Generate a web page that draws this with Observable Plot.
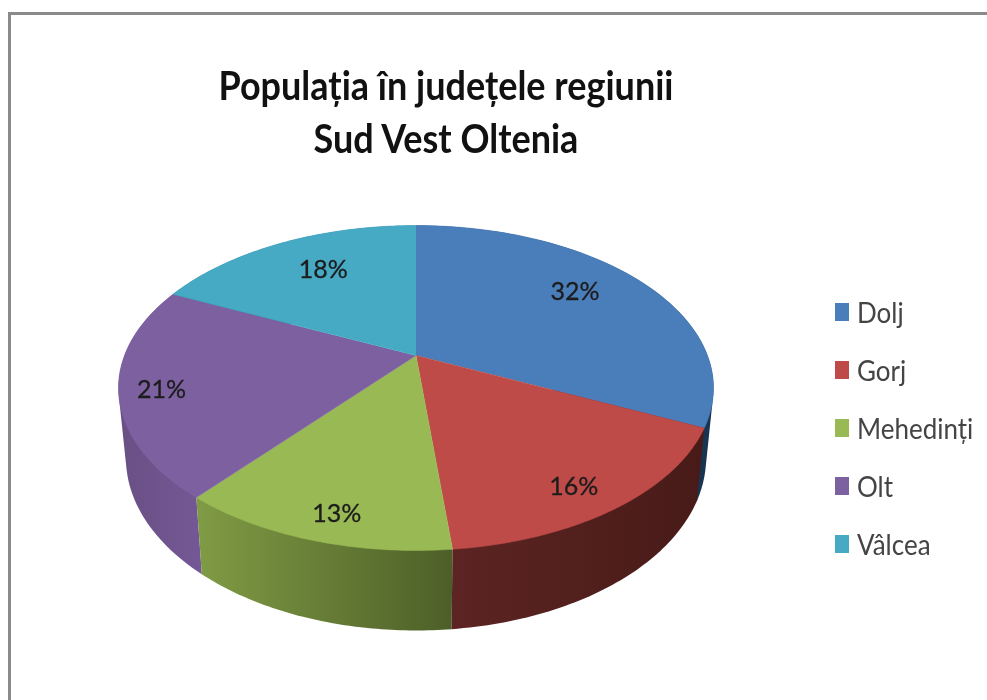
<!DOCTYPE html>
<html lang="ro">
<head>
<meta charset="utf-8">
<script src="https://cdn.jsdelivr.net/npm/d3@7"></script>
<script src="https://cdn.jsdelivr.net/npm/@observablehq/plot@0.6"></script>
<style>
  html, body { margin: 0; padding: 0; background: #fff; }
  #page { position: relative; width: 987px; height: 700px; overflow: hidden; filter: blur(0.7px); font-family: Lato, sans-serif; }
  #frame { position: absolute; left: 8px; top: 12px; right: -10px; bottom: -10px; border-top: 3px solid #8a8a8a; border-left: 3px solid #8a8a8a; }
  #title { position: absolute; left: 146px; top: 63px; width: 600px; text-align: center; font-weight: 700; font-size: 36px; line-height: 48px; color: #111; transform: scaleY(1.1); transform-origin: 50% 50%; }
  #chart { position: absolute; left: 0; top: 200px; }
  #chart svg { display: block; background: transparent; max-width: none; }
  #legend { position: absolute; left: 835px; top: 283px; margin: 0; padding: 0; list-style: none; }
  #legend li { display: flex; align-items: center; height: 58px; color: #444; font-size: 26px; white-space: nowrap; }
  #legend i { display: block; width: 14px; height: 18px; margin-right: 8px; }
  #legend span { display: inline-block; transform: scaleY(1.1); }
</style>
</head>
<body>
<div id="page">
  <div id="frame"></div>
  <div id="title">Populația în județele regiunii<br>Sud Vest Oltenia</div>
  <div id="chart"></div>
  <ul id="legend"></ul>
</div>
<script>
// Data
const counties = ["Dolj", "Gorj", "Mehedinți", "Olt", "Vâlcea"];
const shares = [32, 16.4, 12.6, 21, 18];

// Colours
const topColors = ["#4a7ebb", "#be4b48", "#98b954", "#7d60a0", "#46aac4"];
const sideFrom = ["#1f3e5f", "#5c2422", "#7f9a44", "#6a5085", "#2a6a7c"];
const sideTo = ["#173450", "#481b18", "#4d5f28", "#745896", "#2a6a7c"];

// Hand-placed data labels: direction (degrees clockwise from top) and distance from the apex, as a share of the radius
const labelTurn = [53.2, 147.4, 195, 255.6, 330];
const labelReach = [0.742, 0.859, 0.872, 0.863, 0.715];

// Perspective of the tilted disc
const persp = 0.2;       // foreshortening toward the viewer
const baseScale = 0.975; // lower disc is further from the eye
const baseDrop = 0.435;  // lower disc sits below the upper one

const project = (turn, reach, level = 0) => {
  const a = turn * Math.PI / 180;
  const u = reach * Math.sin(a), v = -reach * Math.cos(a);
  const w = 1 - persp * v;
  const s = level ? baseScale : 1;
  return {px: s * u / w, py: (s * v + level * baseDrop) / w};
};

const total = d3.sum(shares);
let run = 0;
const slices = counties.map((name, i) => {
  const start = run / total * 360;
  run += shares[i];
  return {name, i, start, end: run / total * 360, share: shares[i]};
});
const steps = 60;
const arc = (s, level) => d3.range(0, steps + 1).map(k => project(s.start + (s.end - s.start) * k / steps, 1, level));

const topPoints = slices.flatMap(s => [{...project(0, 0), name: s.name}, ...arc(s, 0).map(p => ({...p, name: s.name}))]);

// The wall of a slice is the convex hull of its two arcs: this fills the silhouette
// between the discs, and the chord across the inner side stays hidden under the top face.
const wall = s => d3.polygonHull([...arc(s, 0), ...arc(s, 1)].map(p => [p.px, p.py])).map(([px, py]) => ({px, py}));
const sideOrder = [4, 0, 3, 2, 1];

const xDomain = [-1, 1], xRange = [124, 707];
const xPixel = d3.scaleLinear(xDomain, xRange);

const gradients = () => {
  const defs = d3.create("svg:defs");
  slices.forEach((s, i) => {
    const [lo, hi] = d3.extent(arc(s, 1), p => p.px);
    const g = defs.append("linearGradient").attr("id", `side-${i}`)
      .attr("gradientUnits", "userSpaceOnUse")
      .attr("x1", xPixel(lo)).attr("x2", xPixel(hi)).attr("y1", 0).attr("y2", 0);
    g.append("stop").attr("offset", "0%").attr("stop-color", sideFrom[i]);
    g.append("stop").attr("offset", "100%").attr("stop-color", sideTo[i]);
  });
  return defs.node();
};

const chart = Plot.plot({
  width: 800,
  height: 460,
  margin: 0,
  x: {domain: xDomain, range: xRange, axis: null},
  y: {domain: [-1, 1], range: [-1, 311], axis: null},
  color: {domain: counties, range: topColors},
  marks: [
    gradients,
    ...sideOrder.map(i => Plot.line(wall(slices[i]), {
      x: "px", y: "py",
      fill: `url(#side-${i})`, stroke: "none"
    })),
    Plot.line(topPoints, {x: "px", y: "py", z: "name", fill: "name", stroke: "name", strokeWidth: 0.5}),
    Plot.text(slices, {
      x: s => project(labelTurn[s.i], labelReach[s.i]).px,
      y: s => project(labelTurn[s.i], labelReach[s.i]).py,
      text: s => `${Math.round(s.share)}%`,
      fontFamily: "Lato, sans-serif",
      fontSize: 25,
      fill: "#1c1c1c",
      stroke: "#1c1c1c",
      strokeWidth: 0.3
    })
  ]
});
document.getElementById("chart").append(chart);

d3.select("#legend").selectAll("li").data(counties).join("li")
  .html((d, i) => `<i style="background:${topColors[i]}"></i><span>${d}</span>`);
</script>
</body>
</html>
